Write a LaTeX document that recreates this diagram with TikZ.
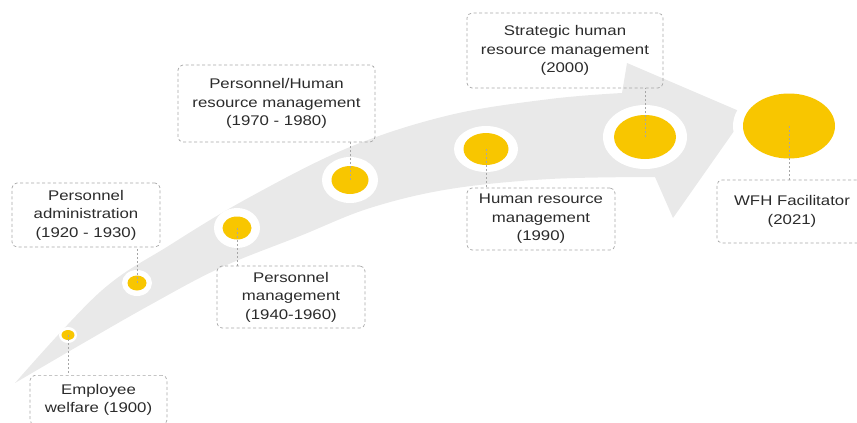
\documentclass[tikz,border=0pt]{standalone}
\usepackage{fontspec}
\setmainfont{Liberation Sans}[FakeStretch=1.2]
\usetikzlibrary{shapes.geometric}
\definecolor{bandgray}{HTML}{E9E9E9}
\definecolor{dotyellow}{HTML}{F8C600}
\definecolor{boxline}{HTML}{A6A6A6}
\definecolor{txt}{HTML}{2B2B2B}
\begin{document}
\begin{tikzpicture}[x=1pt,y=-1pt,
  infobox/.style={draw=boxline, line width=0.7pt, dash pattern=on 3pt off 2.5pt,
    rounded corners=5pt, align=center, text=txt,
    font=\fontsize{14}{18.5}\selectfont, inner sep=0pt},
  dot/.style={ellipse, fill=dotyellow, inner sep=0pt},
  halo/.style={fill=white},
  conn/.style={draw=boxline, line width=0.7pt, dash pattern=on 2pt off 2pt}]
\useasboundingbox (0,0) rectangle (857,423);
% curved arrow band
\fill[bandgray] plot[smooth, tension=0.6] coordinates
  {(15,383) (100,292) (170,245) (250,197) (350,147) (450,115) (550,99) (622,93)}
  -- (627,63) -- (746,114) -- (673,218) -- (655,177)
  -- plot[smooth, tension=0.6] coordinates
  {(655,177) (550,179) (450,189) (370,208) (300,236) (220,268) (150,305) (80,345) (15,383)}
  -- cycle;
% centres of the milestones
\coordinate (p1) at (68,335);
\coordinate (p2) at (137,283);
\coordinate (p3) at (237,228);
\coordinate (p4) at (350,180);
\coordinate (p5) at (486,149);
\coordinate (p6) at (645,137);
\coordinate (p7) at (789,126);
% white halos
\fill[halo] (p1) ellipse [x radius=9pt, y radius=8pt];
\fill[halo] (p2) ellipse [x radius=15pt, y radius=13pt];
\fill[halo] (p3) ellipse [x radius=23pt, y radius=20pt];
\fill[halo] (p4) ellipse [x radius=28pt, y radius=23pt];
\fill[halo] (p5) ellipse [x radius=32pt, y radius=23pt];
\fill[halo] (p6) ellipse [x radius=42pt, y radius=32pt];
\fill[halo] (p7) ellipse [x radius=56pt, y radius=41pt];
% yellow dots
\node[dot, minimum width=13pt, minimum height=10pt] (c1) at (p1) {};
\node[dot, minimum width=19pt, minimum height=15pt] (c2) at (p2) {};
\node[dot, minimum width=29pt, minimum height=23pt] (c3) at (p3) {};
\node[dot, minimum width=37pt, minimum height=28pt] (c4) at (p4) {};
\node[dot, minimum width=45pt, minimum height=32pt] (c5) at (p5) {};
\node[dot, minimum width=62pt, minimum height=44pt] (c6) at (p6) {};
\node[dot, minimum width=92pt, minimum height=65pt] (c7) at (p7) {};
% boxes
\node[infobox, anchor=north, minimum width=137pt, inner ysep=9pt] (ew) at (98.5,375)
  {Employee\\welfare (1900)};
\node[infobox, minimum width=148pt, minimum height=64pt] (pa) at (86,215)
  {Personnel\\administration\\(1920 - 1930)};
\node[infobox, minimum width=148pt, minimum height=62pt] (pm) at (291,297)
  {Personnel\\management\\(1940-1960)};
\node[infobox, minimum width=197pt, minimum height=77pt] (ph) at (276.5,103.5)
  {Personnel/Human\\resource management\\(1970 - 1980)};
\node[infobox, minimum width=148pt, minimum height=62pt] (hr) at (541,219)
  {Human resource\\management\\(1990)};
\node[infobox, minimum width=196pt, minimum height=75pt] (st) at (565,50.5)
  {Strategic human\\resource management\\(2000)};
\node[infobox, minimum width=150pt, minimum height=63pt] (wfh) at (792,211.5)
  {WFH Facilitator\\(2021)};
% connectors
\draw[conn] (c1.center) -- (c1.center |- ew.north);
\draw[conn] (c2.center) -- (c2.center |- pa.south);
\draw[conn] (c3.center) -- (c3.center |- pm.north);
\draw[conn] (c4.center) -- (c4.center |- ph.south);
\draw[conn] (c5.center) -- (c5.center |- hr.north);
\draw[conn] (c6.center) -- (c6.center |- st.south);
\draw[conn] (c7.center) -- (c7.center |- wfh.north);
\end{tikzpicture}
\end{document}
